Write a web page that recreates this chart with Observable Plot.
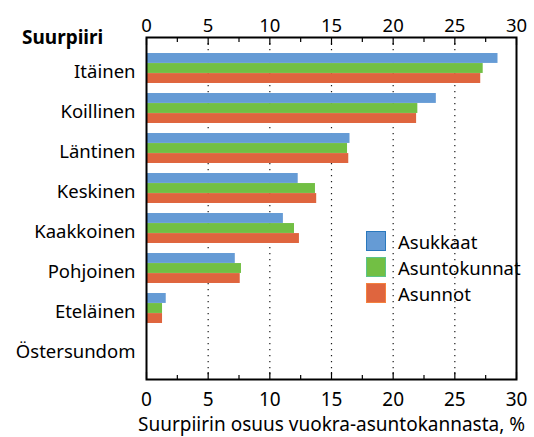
<!DOCTYPE html>
<html><head><meta charset="utf-8">
<script src="https://cdn.jsdelivr.net/npm/d3@7"></script>
<script src="https://cdn.jsdelivr.net/npm/@observablehq/plot@0.6"></script>
<style>
body{margin:0;background:#fff;}
#wrap{position:relative;width:534px;height:437px;overflow:hidden;font-family:"Noto Sans",sans-serif;color:#000;}
#legend{position:absolute;left:366px;top:228px;}
.item{display:flex;align-items:center;height:26px;font-size:18.5px;}
.sw{width:18px;height:18px;border:1.5px solid;margin-right:12px;box-sizing:content-box;}
#ytitle{position:absolute;left:22px;top:27px;font-weight:bold;font-size:19px;line-height:20px;}
</style></head><body><div id="wrap"></div>
<script>
const districts = ["Itäinen","Koillinen","Läntinen","Keskinen","Kaakkoinen","Pohjoinen","Eteläinen","Östersundom"];
const seriesNames = ["Asukkaat","Asuntokunnat","Asunnot"];
const asukkaat = [28.5, 23.5, 16.5, 12.3, 11.1, 7.2, 1.6, 0];
const asuntokunnat = [27.3, 22.0, 16.3, 13.7, 12.0, 7.7, 1.3, 0];
const asunnot = [27.1, 21.9, 16.4, 13.8, 12.4, 7.6, 1.3, 0];
const colors = ["#659bd5","#72bf44","#df653e"];
const borders = ["#2a78bd","#5cc48a","#f4813f"];
const xTicks = [0,5,10,15,20,25,30];
const minorTicks = [2.5,7.5,12.5,17.5,22.5,27.5];
const gridTicks = [5,10,15,20,25];
const xLabel = "Suurpiirin osuus vuokra-asuntokannasta, %";
const yTitle = "Suurpiiri";

const values = [asukkaat, asuntokunnat, asunnot];
const rows = districts.flatMap((d,i)=>seriesNames.map((s,j)=>({district:d, series:s, value:values[j][i]})));

const W=534,H=437,mT=37,mB=58,mL=146,mR=18,inT=10,inB=11;
const bw = (H-mT-mB-inT-inB)/districts.length;
const barH = bw*0.25, off = bw*0.125;

const barMarks = seriesNames.map((s,j)=>Plot.barX(rows.filter(r=>r.series===s),{
  x:"value", y:"district", fill: colors[j],
  insetTop: off + j*barH, insetBottom: bw - off - (j+1)*barH
}));

const chart = Plot.plot({
  width:W, height:H, marginTop:mT, marginBottom:mB, marginLeft:mL, marginRight:mR,
  style:{fontFamily:'"Noto Sans",sans-serif', fontSize:"18.5px", color:"#000", background:"#fff"},
  x:{domain:[0,30], axis:null},
  y:{domain:districts, padding:0, insetTop:inT, insetBottom:inB, axis:null},
  marks:[
    Plot.gridX({ticks:gridTicks, stroke:"#000", strokeOpacity:0.9, strokeDasharray:"1.2,4.8", strokeWidth:1.2}),
    ...barMarks,
    Plot.frame({stroke:"#000", strokeWidth:2}),
    Plot.axisY({anchor:"left", tickSize:0, tickPadding:11, dy:4, label:null}),
    Plot.axisX({anchor:"top", ticks:xTicks, tickSize:0, tickPadding:6, label:null}),
    Plot.axisX({anchor:"bottom", ticks:xTicks, tickSize:0, tickPadding:13, label:xLabel, labelAnchor:"center", labelArrow:"none", labelOffset:51, fontSize:19}),
    Plot.axisX({anchor:"bottom", ticks:xTicks, tickSize:7, dy:-7, tickFormat:()=>"", label:null, strokeWidth:1.2}),
    Plot.axisX({anchor:"bottom", ticks:minorTicks, tickSize:4, dy:-4, tickFormat:()=>"", label:null, strokeWidth:1.2}),
    Plot.axisX({anchor:"top", ticks:xTicks, tickSize:7, dy:7, tickFormat:()=>"", label:null, strokeWidth:1.2}),
    Plot.axisX({anchor:"top", ticks:minorTicks, tickSize:4, dy:4, tickFormat:()=>"", label:null, strokeWidth:1.2})
  ]
});

const wrap = d3.select("#wrap");
wrap.node().appendChild(chart);
wrap.append("div").attr("id","ytitle").text(yTitle);
const leg = wrap.append("div").attr("id","legend");
seriesNames.forEach((s,j)=>{
  const it = leg.append("div").attr("class","item");
  it.append("div").attr("class","sw").style("background",colors[j]).style("border-color",borders[j]);
  it.append("span").text(s);
});
</script></body></html>
